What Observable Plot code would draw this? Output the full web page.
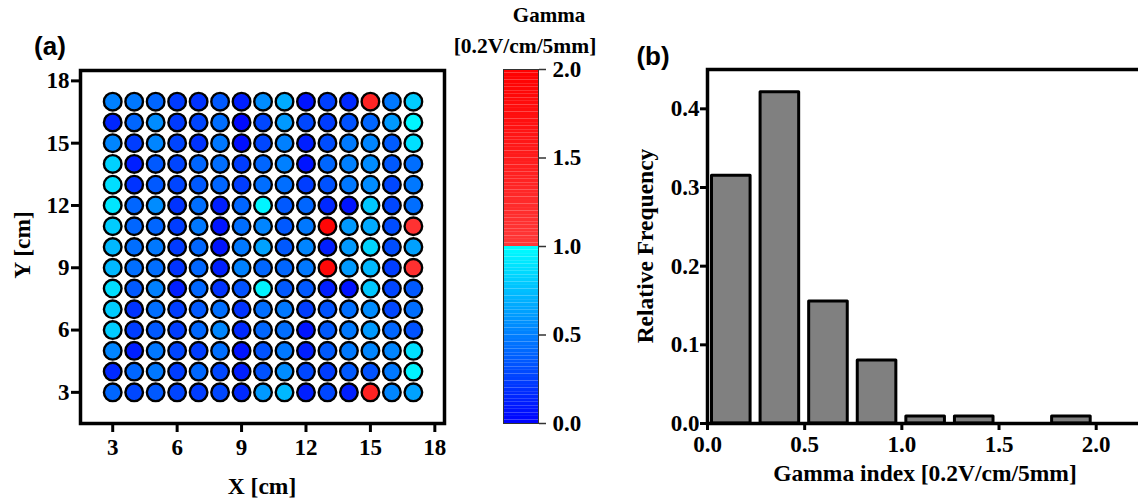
<!DOCTYPE html>
<html>
<head>
<meta charset="utf-8">
<script src="https://cdn.jsdelivr.net/npm/d3@7"></script>
<script src="https://cdn.jsdelivr.net/npm/@observablehq/plot@0.6"></script>
<style>
  html, body { margin: 0; padding: 0; background: #fff; overflow: hidden; }
  #wrap { position: relative; width: 1138px; height: 499px; overflow: hidden; }
  .lbl { position: absolute; transform: translate(-50%, -50%); white-space: nowrap;
         font-family: "Liberation Serif", "Times New Roman", serif; font-weight: bold; font-size: 23.5px; color: #000; }
  .rot { transform: translate(-50%, -50%) rotate(-90deg); }
  .panel { font-family: "Liberation Sans", Arial, sans-serif; font-size: 26px; }
  .cbt1 { font-size: 21px; }
  .cbt2 { font-size: 21.5px; }
  svg text { font-size: 23px; }
</style>
</head>
<body>
<div id="wrap"></div>
<script>
// ---------- Data: panel (a) gamma map ----------
const xPositions = [3, 4, 5, 6, 7, 8, 9, 10, 11, 12, 13, 14, 15, 16, 17];
const yPositions = [17, 16, 15, 14, 13, 12, 11, 10, 9, 8, 7, 6, 5, 4, 3];
// one row per y position (top to bottom), values for x = 3..17
const gammaRows = [
  [0.50, 0.47, 0.40, 0.23, 0.20, 0.35, 0.12, 0.55, 0.67, 0.08, 0.25, 0.16, 1.35, 0.47, 0.80],
  [0.15, 0.40, 0.55, 0.23, 0.27, 0.43, 0.04, 0.28, 0.60, 0.28, 0.24, 0.32, 0.40, 0.60, 0.96],
  [0.52, 0.24, 0.52, 0.27, 0.20, 0.47, 0.06, 0.28, 0.50, 0.12, 0.30, 0.48, 0.52, 0.36, 0.88],
  [0.82, 0.12, 0.35, 0.27, 0.40, 0.43, 0.24, 0.40, 0.50, 0.08, 0.40, 0.50, 0.55, 0.35, 0.43],
  [0.87, 0.20, 0.35, 0.27, 0.35, 0.40, 0.24, 0.43, 0.43, 0.24, 0.32, 0.47, 0.55, 0.28, 0.47],
  [0.90, 0.40, 0.55, 0.20, 0.43, 0.12, 0.40, 0.96, 0.35, 0.40, 0.16, 0.08, 0.78, 0.28, 0.43],
  [0.80, 0.40, 0.40, 0.24, 0.47, 0.08, 0.43, 0.52, 0.35, 0.47, 1.90, 0.60, 0.67, 0.30, 1.10],
  [0.72, 0.43, 0.47, 0.23, 0.40, 0.08, 0.47, 0.63, 0.35, 0.52, 0.12, 0.60, 0.83, 0.30, 0.63],
  [0.72, 0.43, 0.43, 0.20, 0.40, 0.12, 0.50, 0.40, 0.40, 0.47, 1.85, 0.60, 0.72, 0.24, 1.15],
  [0.87, 0.35, 0.50, 0.12, 0.40, 0.20, 0.32, 0.95, 0.35, 0.35, 0.12, 0.08, 0.78, 0.27, 0.35],
  [0.80, 0.20, 0.43, 0.24, 0.35, 0.43, 0.20, 0.43, 0.47, 0.24, 0.32, 0.43, 0.55, 0.28, 0.43],
  [0.80, 0.24, 0.35, 0.24, 0.40, 0.52, 0.16, 0.40, 0.43, 0.08, 0.35, 0.47, 0.60, 0.40, 0.32],
  [0.52, 0.12, 0.47, 0.27, 0.24, 0.43, 0.08, 0.32, 0.47, 0.12, 0.35, 0.47, 0.52, 0.52, 0.88],
  [0.16, 0.40, 0.47, 0.24, 0.40, 0.28, 0.12, 0.32, 0.55, 0.28, 0.24, 0.35, 0.32, 0.47, 0.95],
  [0.40, 0.28, 0.35, 0.27, 0.24, 0.28, 0.16, 0.60, 0.72, 0.12, 0.28, 0.12, 1.40, 0.52, 0.63]
];
const mapTicks = [3, 6, 9, 12, 15, 18];

// ---------- Colour scale ----------
const colorDomain = [0, 1, 1.000001, 2];
const colorRange = ["#0000ff", "#00ffff", "#ff3838", "#ff0000"];
const colorbarTicks = [0, 0.5, 1.0, 1.5, 2.0];

// ---------- Data: panel (b) histogram ----------
const binStarts = [0.00, 0.25, 0.50, 0.75, 1.00, 1.25, 1.75];
const binWidth = 0.25;
const relFrequency = [0.315, 0.421, 0.155, 0.080, 0.009, 0.009, 0.009];
const histXTicks = [0, 0.5, 1.0, 1.5, 2.0];
const histYTicks = [0, 0.1, 0.2, 0.3, 0.4];

// ---------- Build tables ----------
const cells = [];
yPositions.forEach((y, i) => xPositions.forEach((x, j) => cells.push({x, y, g: gammaRows[i][j]})));
const bins = binStarts.map((s, i) => ({x1: s, x2: s + binWidth, f: relFrequency[i]}));

const serif = {fontFamily: "'Liberation Serif', 'Times New Roman', serif", fontWeight: "bold", fontSize: "23px", color: "#000", background: "transparent", overflow: "visible"};
const wrap = document.getElementById("wrap");
const colorScale = {type: "linear", domain: colorDomain, range: colorRange, interpolate: "rgb", clamp: true};

// Panel (a)
const mapPlot = Plot.plot({
  width: 480, height: 499,
  marginLeft: 80, marginRight: 36, marginTop: 70, marginBottom: 76,
  x: {domain: [1.5, 18.45], ticks: mapTicks, label: null},
  y: {domain: [1.5, 18.5], ticks: mapTicks, label: null},
  color: colorScale,
  style: {...serif, position: "absolute", left: "0px", top: "0px"},
  marks: [
    Plot.dot(cells, {x: "x", y: "y", fill: "g", r: 8.8, stroke: "#000", strokeWidth: 2.4}),
    Plot.frame({stroke: "#000", strokeWidth: 3.5}),
    Plot.axisX({ticks: mapTicks, tickSize: 9, strokeWidth: 3, tickPadding: 6, label: null, fontSize: 23}),
    Plot.axisY({ticks: mapTicks, tickSize: 9, strokeWidth: 3, tickPadding: 2, label: null, fontSize: 23})
  ]
});
wrap.appendChild(mapPlot);

// Colour bar
const steps = d3.range(0, 2, 0.02);
const cbar = Plot.plot({
  width: 130, height: 499,
  marginLeft: 23, marginRight: 72, marginTop: 69, marginBottom: 76,
  x: {domain: [0, 1], axis: null},
  y: {domain: [0, 2], ticks: colorbarTicks, label: null},
  color: colorScale,
  style: {...serif, position: "absolute", left: "480px", top: "0px"},
  marks: [
    Plot.rect(steps, {x1: 0, x2: 1, y1: d => d, y2: d => d + 0.02, fill: d => d + 0.01}),
    Plot.frame({stroke: "#333", strokeWidth: 1}),
    Plot.axisY({anchor: "right", ticks: colorbarTicks, tickFormat: d3.format(".1f"), tickSize: 7, strokeWidth: 1.5, stroke: "#333", tickPadding: 7, label: null, fontSize: 23})
  ]
});
wrap.appendChild(cbar);

// Panel (b)
const hist = Plot.plot({
  width: 544, height: 499,
  marginLeft: 87, marginRight: 10, marginTop: 69, marginBottom: 76,
  x: {domain: [0, 2.3], label: null},
  y: {domain: [0, 0.45], label: null},
  style: {...serif, position: "absolute", left: "620px", top: "0px"},
  marks: [
    Plot.rect(bins, {x1: "x1", x2: "x2", y1: 0, y2: "f", fill: "#808080", stroke: "#000", strokeWidth: 3, strokeLinejoin: "round", insetLeft: 4.5, insetRight: 5.5}),
    Plot.frame({stroke: "#000", strokeWidth: 3.5}),
    Plot.axisX({ticks: histXTicks, tickFormat: d3.format(".1f"), tickSize: 7, strokeWidth: 3, tickPadding: 5, label: null, fontSize: 23}),
    Plot.axisY({ticks: histYTicks, tickFormat: d3.format(".1f"), tickSize: 7, strokeWidth: 3, tickPadding: 1, label: null, fontSize: 23})
  ]
});
wrap.appendChild(hist);

// Titles and labels
const labels = [
  {t: "(a)", x: 50, y: 46, cls: "lbl panel"},
  {t: "(b)", x: 653, y: 56, cls: "lbl panel"},
  {t: "Gamma", x: 549, y: 15, cls: "lbl cbt1"},
  {t: "[0.2V/cm/5mm]", x: 525, y: 46, cls: "lbl cbt2"},
  {t: "X [cm]", x: 262, y: 486, cls: "lbl"},
  {t: "Y [cm]", x: 22, y: 245, cls: "lbl rot"},
  {t: "Relative Frequency", x: 645, y: 246, cls: "lbl rot"},
  {t: "Gamma index [0.2V/cm/5mm]", x: 925, y: 473, cls: "lbl"}
];
for (const l of labels) {
  const d = document.createElement("div");
  d.className = l.cls;
  d.textContent = l.t;
  d.style.left = l.x + "px";
  d.style.top = l.y + "px";
  wrap.appendChild(d);
}
</script>
</body>
</html>
